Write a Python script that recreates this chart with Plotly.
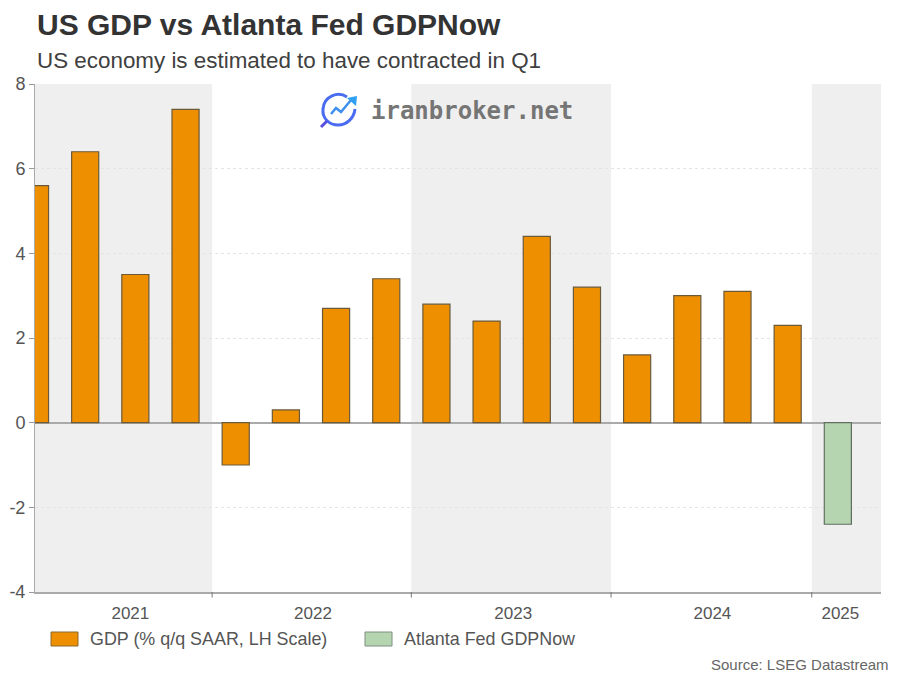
import plotly.graph_objects as go

quarters = list(range(17))
gdp = [5.6, 6.4, 3.5, 7.4, -1.0, 0.3, 2.7, 3.4, 2.8, 2.4, 4.4, 3.2, 1.6, 3.0, 3.1, 2.3, None]
gdpnow = [None] * 16 + [-2.4]
year_labels = ["2021", "2022", "2023", "2024", "2025"]
year_label_pos = [1.9, 5.54, 9.53, 13.5, 16.05]
year_bounds = [3.53, 7.5, 11.48, 15.48]
y_ticks = [-4, -2, 0, 2, 4, 6, 8]
y_tick_text = ["-4", "-2", "0", "2", "4", "6", "8"]
FONT = "Liberation Sans"
ORANGE = "#EE8F00"
GREEN = "#B5D5B0"
XMAX = 16.86

fig = go.Figure()
fig.add_bar(x=quarters, y=gdp, width=0.54, marker=dict(color=ORANGE, line=dict(color="#6b5a3a", width=1.2)), name="GDP (% q/q SAAR, LH Scale)")
fig.add_bar(x=quarters, y=gdpnow, width=0.54, marker=dict(color=GREEN, line=dict(color="#5f6f5f", width=1.2)), name="Atlanta Fed GDPNow")

shapes = []
edges = [0] + year_bounds + [XMAX]
for i in (0, 2, 4):
    shapes.append(dict(type="rect", xref="x", yref="paper", x0=edges[i], x1=edges[i + 1], y0=0, y1=1,
                       fillcolor="#EFEFEF", line_width=0, layer="below"))
for b in year_bounds:
    shapes.append(dict(type="line", xref="x", yref="paper", x0=b, x1=b, y0=0, y1=-0.011,
                       line=dict(color="#777777", width=1)))
def px(x): return (x - 35) / 846
def py(y): return (592 - y) / 508
shapes.append(dict(type="rect", xref="paper", yref="paper", x0=px(51), x1=px(78), y0=py(646), y1=py(632),
                   fillcolor=ORANGE, line=dict(color="#8a6a30", width=1)))
shapes.append(dict(type="rect", xref="paper", yref="paper", x0=px(365), x1=px(392), y0=py(646), y1=py(632),
                   fillcolor=GREEN, line=dict(color="#7f8f7f", width=1)))
# watermark icon
shapes.append(dict(type="path", xref="paper", yref="paper",
                   path=f"M {px(347)} {py(97)} C {px(338)} {py(91)}, {px(324)} {py(96)}, {px(323)} {py(109)} C {px(322)} {py(119)}, {px(330)} {py(125)}, {px(338)} {py(125)} C {px(347)} {py(125)}, {px(354)} {py(118)}, {px(355)} {py(109)}",
                   line=dict(color="#4A6CF0", width=3)))
shapes.append(dict(type="line", xref="paper", yref="paper", x0=px(327), x1=px(321), y0=py(121), y1=py(127),
                   line=dict(color="#5A50E0", width=3)))
shapes.append(dict(type="path", xref="paper", yref="paper",
                   path=f"M {px(331)} {py(114)} L {px(336)} {py(108)} L {px(341)} {py(112)} L {px(351)} {py(100)}",
                   line=dict(color="#3F8FEF", width=2.5)))
shapes.append(dict(type="path", xref="paper", yref="paper",
                   path=f"M {px(347)} {py(98)} L {px(357)} {py(96)} L {px(356)} {py(106)} Z",
                   fillcolor="#2F9FEF", line_width=0))

annotations = [
    dict(text="<b>US GDP vs Atlanta Fed GDPNow</b>", xref="paper", yref="paper", x=px(37), y=py(25), xanchor="left", yanchor="middle",
         showarrow=False, xshift=-2, font=dict(size=30, color="#333333", family=FONT)),
    dict(text="US economy is estimated to have contracted in Q1", xref="paper", yref="paper", x=px(37), y=py(60), xanchor="left", yanchor="middle",
         showarrow=False, xshift=-2, font=dict(size=22.4, color="#404040", family=FONT)),
    dict(text="GDP (% q/q SAAR, LH Scale)", xref="paper", yref="paper", x=px(90), y=py(639), xanchor="left", yanchor="middle",
         showarrow=False, xshift=-2, font=dict(size=17.9, color="#555555", family=FONT)),
    dict(text="Atlanta Fed GDPNow", xref="paper", yref="paper", x=px(404), y=py(639), xanchor="left", yanchor="middle",
         showarrow=False, xshift=-2, font=dict(size=17.9, color="#555555", family=FONT)),
    dict(text="Source: LSEG Datastream", xref="paper", yref="paper", x=px(888), y=py(664), xanchor="right", yanchor="middle",
         showarrow=False, xshift=3, font=dict(size=15, color="#666666", family=FONT)),
    dict(text="<b>iranbroker.net</b>", xref="paper", yref="paper", x=px(371), y=py(111), xanchor="left", yanchor="middle",
         showarrow=False, xshift=-2, font=dict(size=24, color="#757575", family="DejaVu Sans Mono")),
]

fig.update_layout(
    width=884, height=667, margin=dict(l=27, r=11, t=76, b=83), autosize=False,
    paper_bgcolor="white", plot_bgcolor="white", barmode="overlay", showlegend=False,
    font=dict(family=FONT, size=17, color="#555555"), shapes=shapes, annotations=annotations,
)
fig.update_xaxes(range=[0, XMAX], tickmode="array", tickvals=year_label_pos, ticktext=year_labels, ticks="",
                 showgrid=False, zeroline=False, showline=True, linecolor="#AAAAAA", linewidth=2,
                 tickfont=dict(size=17, color="#555555", family=FONT), ticklabelstandoff=5, automargin=False)
fig.update_yaxes(range=[-4, 8], tickmode="array", tickvals=y_ticks, ticktext=y_tick_text, ticks="outside", ticklen=5, tickcolor="#999999",
                 showgrid=True, gridcolor="#E4E4E4", griddash="dot", gridwidth=1,
                 zeroline=True, zerolinecolor="#AAAAAA", zerolinewidth=1.5,
                 showline=True, linecolor="#AAAAAA", linewidth=1,
                 tickfont=dict(size=18, color="#555555", family=FONT), automargin=False)
fig.write_html("out.html")
